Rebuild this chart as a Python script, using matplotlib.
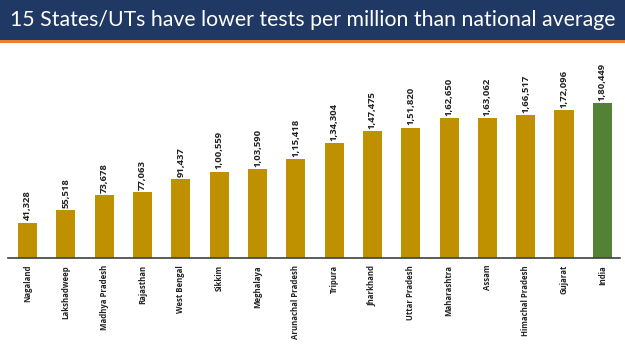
import matplotlib
matplotlib.use("Agg")
import matplotlib.pyplot as plt
from matplotlib.patches import Rectangle

states = ["Nagaland", "Lakshadweep", "Madhya Pradesh", "Rajasthan", "West Bengal",
          "Sikkim", "Meghalaya", "Arunachal Pradesh", "Tripura", "Jharkhand",
          "Uttar Pradesh", "Maharashtra", "Assam", "Himachal Pradesh", "Gujarat", "India"]
tests_per_million = [41328, 55518, 73678, 77063, 91437, 100559, 103590, 115418,
                     134304, 147475, 151820, 162650, 163062, 166517, 172096, 180449]
value_labels = ["41,328", "55,518", "73,678", "77,063", "91,437", "1,00,559", "1,03,590",
                "1,15,418", "1,34,304", "1,47,475", "1,51,820", "1,62,650", "1,63,062",
                "1,66,517", "1,72,096", "1,80,449"]
title = "15 States/UTs have lower tests per million than national average"

gold = "#BF9000"
green = "#548235"
colors = [green if s == "India" else gold for s in states]

fig = plt.figure(figsize=(6.25, 3.51), dpi=100)
fig.patch.set_facecolor("white")

# title banner
fig.patches.append(Rectangle((0, 1 - 40/351), 1, 40/351, transform=fig.transFigure,
                             facecolor="#203864", edgecolor="none", zorder=0))
fig.patches.append(Rectangle((0, 1 - 43/351), 1, 3/351, transform=fig.transFigure,
                             facecolor="#ED7D31", edgecolor="none", zorder=0))
fig.text(0.5, 1 - 20/351, title, color="white", fontsize=15.3, family="Lato",
         ha="center", va="center")

ax = fig.add_axes([8/625, 1 - 258/351, 612/625, 213/351])
x = range(len(states))
bars = ax.bar(x, tests_per_million, width=0.5, color=colors)
for b, lab in zip(bars, value_labels):
    ax.text(b.get_x() + b.get_width()/2, b.get_height() + 2500, lab, rotation=90,
            ha="center", va="bottom", fontsize=6.8, fontweight="bold",
            family="Open Sans", color="#222222")

ax.set_xlim(-0.51, 15.46)
ax.set_ylim(0, 248000)
ax.set_xticks(list(x))
ax.set_xticklabels(states, rotation=90, fontsize=5.6, fontweight="bold",
                   family="Open Sans", color="#222222", va="top")
ax.tick_params(axis="x", length=0, pad=5)
ax.set_yticks([])
for s in ["top", "right", "left"]:
    ax.spines[s].set_visible(False)
ax.spines["bottom"].set_color("#404040")
ax.spines["bottom"].set_linewidth(1.2)

fig.savefig("out.png", dpi=100)
